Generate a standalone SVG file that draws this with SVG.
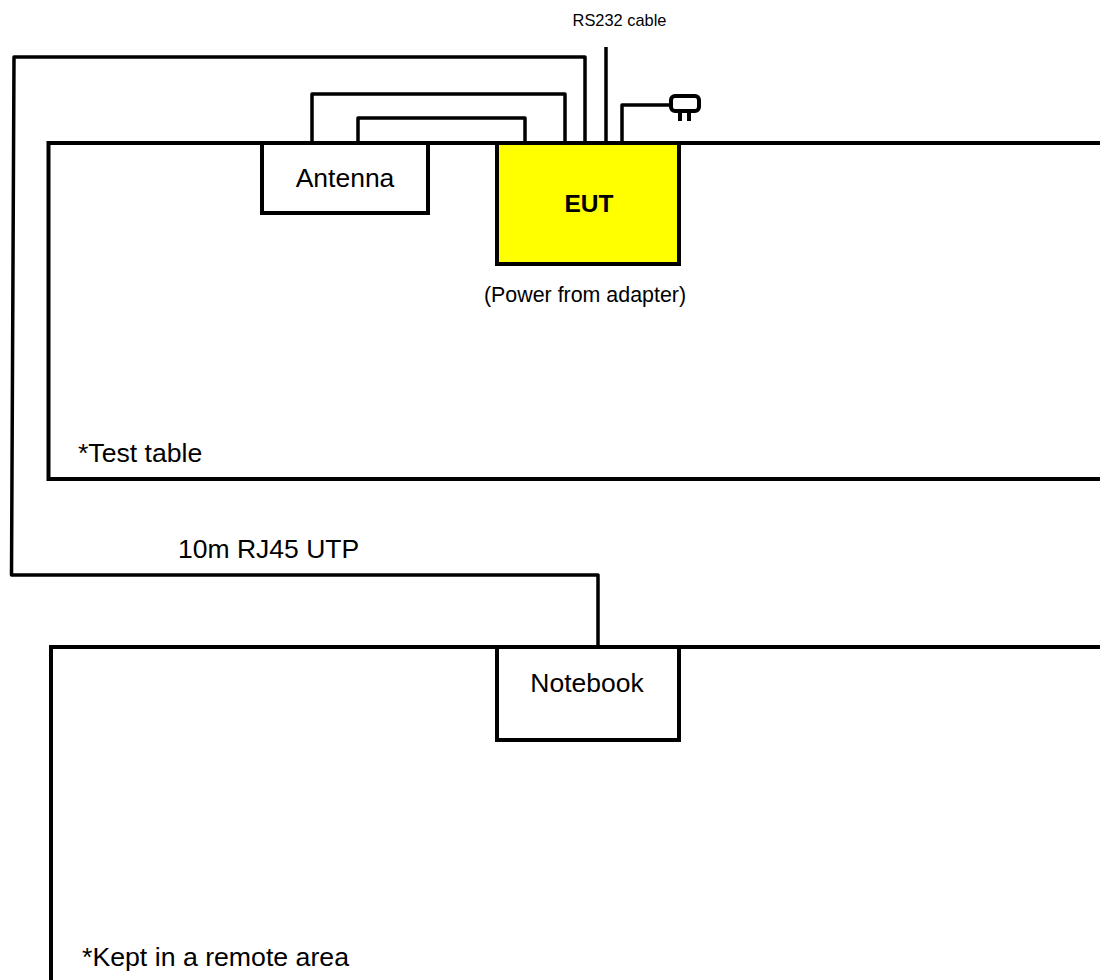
<svg xmlns="http://www.w3.org/2000/svg" width="1100" height="980" viewBox="0 0 1100 980">
<style>
.l{fill:none;stroke:#000;stroke-width:4;stroke-linejoin:miter}
.c{fill:none;stroke:#000;stroke-width:3.5;stroke-linejoin:round}
.b{fill:#fff;stroke:#000;stroke-width:4}
text{font-family:"Liberation Sans",Arial,sans-serif;fill:#000}
</style>
<rect width="1100" height="980" fill="#fff"/>
<g id="test-table"><path class="l" d="M1100 143H48.5V479H1100"/><text x="78" y="462" font-size="26.600">*Test table</text></g>
<g id="remote-area"><path class="l" d="M1100 647H51V980"/><text x="82" y="966" font-size="26.700">*Kept in a remote area</text></g>
<g id="connectors">
<path class="c" d="M585 143V57H14L11.500 575H598V647"/>
<path class="c" d="M312 143V94H565V143"/>
<path class="c" d="M358 143V118H525V143"/>
<path class="c" d="M606 143V47"/>
<path class="c" d="M622 143V105H670"/>
</g>
<g id="plug"><rect x="671" y="96" width="28" height="15" rx="4" fill="none" stroke="#000" stroke-width="4"/><path d="M680 112V121M689 112V121" fill="none" stroke="#000" stroke-width="4"/></g>
<g id="antenna"><rect class="b" x="262" y="143" width="166" height="70"/><text x="345" y="187" font-size="26.500" text-anchor="middle">Antenna</text></g>
<g id="eut"><rect x="497" y="143" width="182" height="121" fill="#ff0" stroke="#000" stroke-width="4"/><text x="589" y="212" font-size="24.500" font-weight="bold" text-anchor="middle">EUT</text></g>
<g id="notebook"><rect class="b" x="497" y="647" width="182" height="93"/><text x="587" y="691.500" font-size="26.500" text-anchor="middle">Notebook</text></g>
<text x="585" y="302" font-size="21.400" text-anchor="middle">(Power from adapter)</text>
<text x="619.500" y="26" font-size="16.400" text-anchor="middle">RS232 cable</text>
<text x="178" y="557.500" font-size="26.500">10m RJ45 UTP</text>
</svg>
